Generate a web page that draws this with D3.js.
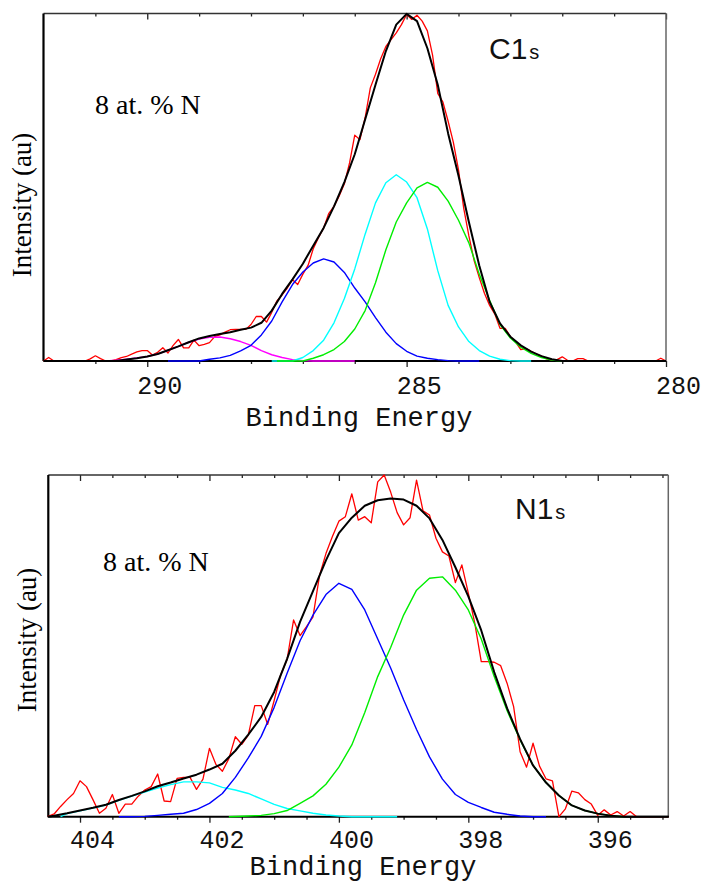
<!DOCTYPE html>
<html><head><meta charset="utf-8">
<script src="https://cdn.jsdelivr.net/npm/d3@7"></script>
<style>html,body{margin:0;padding:0;background:#fff}svg{display:block}</style>
</head><body>
<svg id="chart" width="704" height="883"></svg>
<script>
// ---------- DATA: C1s panel (binding energy eV, intensity a.u.) ----------
const c1sMajorTicks = [290, 285, 280];
const c1sMinorTicks = [291, 289, 288, 287, 286, 284, 283, 282, 281];
const c1sRaw = [[292.0,0],[291.9,1.0],[291.8,0],[291.2,0],[291.1,0.6],[291.0,1.5],[290.9,0.7],[290.8,0],[290.7,0],
 [290.6,0.4],[290.5,1.0],[290.4,1.3],[290.3,2.0],[290.2,2.6],[290.1,3.0],[290.0,3.0],[289.9,1.7],[289.8,2.5],[289.7,3.8],
 [289.6,2.3],[289.5,4.5],[289.4,6.2],[289.3,3.8],[289.2,3.8],[289.1,6.0],[289.0,4.4],[288.9,4.8],[288.8,5.3],[288.7,7.0],
 [288.6,7.5],[288.5,8.3],[288.4,9.0],[288.3,9.1],[288.2,9.1],[288.1,9.1],[288.0,10.5],[287.9,12.8],[287.8,12.8],[287.7,11.2],
 [287.6,14.0],[287.5,17.3],[287.4,19.0],[287.3,21.0],[287.2,23.4],[287.1,22.0],[287.0,25.0],[286.9,27.5],[286.8,32.3],
 [286.7,35.5],[286.6,38.3],[286.5,42.5],[286.4,44.5],[286.3,47.5],[286.2,51.0],[286.1,57.0],[286.0,65.0],[285.9,63.7],
 [285.8,70.0],[285.7,78.6],[285.6,82.5],[285.5,87.0],[285.4,90.5],[285.3,92.5],[285.2,94.4],[285.1,96.8],[285.0,99.7],
 [284.9,98.3],[284.8,99.5],[284.7,97.8],[284.6,95.0],[284.5,88.0],[284.4,77.0],[284.3,74.5],[284.2,69.0],[284.1,63.0],
 [284.0,55.0],[283.9,44.0],[283.8,36.0],[283.7,29.0],[283.6,24.0],[283.5,19.5],[283.4,16.0],[283.3,13.5],[283.2,9.4],
 [283.1,9.4],[283.0,7.0],[282.9,5.5],[282.8,3.3],[282.7,3.6],[282.6,2.8],[282.5,2.0],[282.4,1.4],[282.3,0.6],[282.2,0.3],
 [282.1,0.4],[282.0,1.2],[281.9,0.2],[281.8,0],[281.7,0.7],[281.6,0.7],[281.5,0],[280.2,0],[280.1,0.8],[280.0,0]];
const c1sFit = [[292.0,0],[290.6,0],[290.4,0.4],[290.2,0.8],[290.0,1.3],[289.8,2.0],[289.6,3.1],[289.4,4.2],[289.2,5.4],
 [289.0,6.5],[288.8,7.2],[288.6,7.8],[288.4,8.3],[288.2,9.0],[288.0,9.6],[287.8,11.0],[287.6,14.5],[287.4,19.3],[287.2,23.5],
 [287.0,28.0],[286.8,33.2],[286.6,38.3],[286.4,44.5],[286.2,51.5],[286.0,59.5],[285.8,69.5],[285.6,79.5],[285.4,89.2],
 [285.2,96.8],[285.0,99.9],[284.8,97.8],[284.6,90.0],[284.4,79.5],[284.2,65.5],[284.0,53.3],[283.8,40.0],[283.6,27.5],
 [283.4,17.0],[283.2,10.8],[283.0,7.0],[282.8,4.5],[282.6,2.7],[282.4,1.4],[282.2,0.5],[282.0,0],[280.0,0]];
const c1sPeakMagenta = [[290.8,0],[290.6,0.2],[290.4,0.5],[290.2,0.9],[290.0,1.3],[289.8,2.0],[289.6,3.1],[289.4,4.2],
 [289.2,5.4],[289.0,6.3],[288.8,6.8],[288.6,6.9],[288.4,6.4],[288.2,5.6],[288.0,4.5],[287.8,3.0],[287.6,1.8],[287.4,1.0],
 [287.2,0.4],[287.0,0.1],[286.8,0],[286.0,0]];
const c1sPeakBlue = [[289.6,0],[289.0,0],[288.8,0.5],[288.6,0.9],[288.4,1.6],[288.2,2.9],[288.0,4.5],[287.8,7.5],[287.6,11.5],
 [287.4,17.0],[287.2,22.0],[287.0,25.6],[286.8,28.2],[286.6,29.4],[286.4,28.5],[286.2,25.5],[286.0,21.0],[285.8,17.0],
 [285.6,12.5],[285.4,8.3],[285.2,5.0],[285.0,2.8],[284.8,1.4],[284.6,0.8],[284.4,0.4],[284.2,0.1],[284.0,0],[283.6,0]];
const c1sPeakCyan = [[287.6,0],[287.2,0],[287.0,1.0],[286.8,3.0],[286.6,6.0],[286.4,11.0],[286.2,18.0],[286.0,26.5],
 [285.8,36.5],[285.6,45.5],[285.4,51.3],[285.2,53.6],[285.0,51.5],[284.8,47.0],[284.6,38.0],[284.4,26.0],[284.2,16.0],
 [284.0,9.8],[283.8,5.6],[283.6,3.0],[283.4,1.4],[283.2,0.5],[283.0,0.1],[282.8,0],[282.6,0]];
const c1sPeakGreen = [[287.5,0],[287.0,0],[286.8,0.8],[286.6,1.8],[286.4,3.3],[286.2,5.6],[286.0,9.2],[285.8,14.5],
 [285.6,22.5],[285.4,32.0],[285.2,40.0],[285.0,45.5],[284.8,49.8],[284.6,51.4],[284.4,50.0],[284.2,46.0],[284.0,40.5],
 [283.8,34.0],[283.6,25.0],[283.4,17.5],[283.2,10.5],[283.0,6.6],[282.8,4.0],[282.6,2.2],[282.4,1.0],[282.2,0.3],[282.0,0]];

// ---------- DATA: N1s panel ----------
const n1sMajorTicks = [404, 402, 400, 398, 396];
const n1sMinorTicks = [403.5, 403, 402.5, 401.5, 401, 400.5, 399.5, 399, 398.5, 397.5, 397, 396.5, 395.5, 395];
const n1sRaw = [[404.5,0],[404.4,0.8],[404.3,3.0],[404.2,5.0],[404.1,6.8],[404.0,10.5],[403.9,8.8],[403.8,5.0],[403.7,1.0],
 [403.6,2.5],[403.5,6.5],[403.4,1.0],[403.3,3.7],[403.2,3.7],[403.1,6.0],[403.0,7.8],[402.9,8.8],[402.8,12.5],[402.7,4.6],
 [402.6,4.4],[402.5,11.2],[402.4,11.5],[402.3,11.5],[402.2,8.0],[402.1,11.0],[402.0,20.0],[401.9,15.3],[401.8,13.3],
 [401.7,17.0],[401.6,23.4],[401.5,21.2],[401.4,23.9],[401.3,32.5],[401.2,32.5],[401.1,27.0],[401.0,34.0],[400.9,41.5],
 [400.8,46.0],[400.7,57.6],[400.6,53.0],[400.5,55.6],[400.4,58.5],[400.3,70.5],[400.2,77.0],[400.1,82.0],[400.0,86.5],
 [399.9,87.8],[399.8,94.5],[399.7,86.8],[399.6,87.8],[399.5,86.0],[399.4,98.0],[399.3,100],[399.2,95.0],[399.1,89.0],
 [399.0,85.4],[398.9,87.5],[398.8,98.5],[398.7,89.5],[398.6,88.3],[398.5,81.5],[398.4,77.5],[398.3,76.3],[398.2,68.5],
 [398.1,73.7],[398.0,65.4],[397.9,56.6],[397.8,45.4],[397.7,45.4],[397.6,45.2],[397.5,44.2],[397.4,39.0],[397.3,32.2],
 [397.2,19.0],[397.1,14.5],[397.0,21.5],[396.9,14.8],[396.8,11.1],[396.7,10.5],[396.6,0],[396.5,2.3],[396.4,7.5],
 [396.3,7.0],[396.2,5.0],[396.1,3.7],[396.0,0.4],[395.9,2.0],[395.8,0.5],[395.7,1.5],[395.6,0.2],[395.5,1.5],[395.4,0],
 [394.9,0]];
const n1sFit = [[404.5,0],[404.4,0.3],[404.2,1.0],[404.0,1.8],[403.8,2.6],[403.6,3.5],[403.4,4.9],[403.2,6.1],[403.0,7.4],
 [402.8,8.9],[402.6,10.0],[402.4,11.2],[402.2,12.3],[402.0,13.8],[401.8,15.5],[401.6,19.3],[401.4,24.0],[401.2,29.2],
 [401.0,36.5],[400.8,46.2],[400.6,57.0],[400.4,66.0],[400.2,75.0],[400.0,83.0],[399.8,87.5],[399.6,91.0],[399.4,92.6],
 [399.2,93.1],[399.0,92.8],[398.8,91.0],[398.6,87.3],[398.4,81.0],[398.2,73.0],[398.0,64.5],[397.8,54.5],[397.6,42.3],
 [397.4,31.7],[397.2,22.7],[397.0,15.0],[396.8,10.0],[396.6,6.2],[396.4,3.3],[396.2,1.8],[396.0,0.9],[395.8,0.3],[395.6,0],
 [394.9,0]];
const n1sPeakCyan = [[404.3,0],[404.2,0.9],[404.0,1.7],[403.8,2.5],[403.6,3.4],[403.4,4.8],[403.2,6.0],[403.0,7.2],
 [402.8,8.4],[402.6,9.4],[402.4,10.2],[402.2,10.2],[402.0,9.9],[401.8,8.6],[401.6,7.8],[401.4,6.8],[401.2,5.2],[401.0,3.6],
 [400.8,2.4],[400.6,1.7],[400.4,1.0],[400.2,0.5],[400.0,0.2],[399.8,0],[399.1,0]];
const n1sPeakBlue = [[403.4,0],[403.2,0],[403.0,0.1],[402.8,0.4],[402.6,0.7],[402.4,1.0],[402.2,2.1],[402.0,3.9],[401.8,6.8],
 [401.6,11.5],[401.4,17.2],[401.2,23.5],[401.0,32.0],[400.8,42.0],[400.6,51.5],[400.4,59.0],[400.2,65.0],[400.0,68.3],
 [399.8,66.5],[399.6,60.5],[399.4,52.0],[399.2,43.5],[399.0,34.2],[398.8,25.5],[398.6,17.5],[398.4,11.0],[398.2,6.5],
 [398.0,4.2],[397.8,2.7],[397.6,1.3],[397.4,0.7],[397.2,0.2],[397.0,0],[396.8,0]];
const n1sPeakGreen = [[401.7,0],[401.4,0.2],[401.2,0.4],[401.0,0.9],[400.8,1.8],[400.6,3.9],[400.4,6.1],[400.2,9.5],
 [400.0,14.5],[399.8,21.0],[399.6,30.5],[399.4,41.0],[399.2,49.5],[399.0,59.0],[398.8,66.3],[398.6,69.8],[398.4,70.2],
 [398.2,66.3],[398.0,60.5],[397.8,52.0],[397.6,41.0],[397.4,31.0],[397.2,22.5],[397.0,15.0],[396.8,10.0],[396.6,6.2],
 [396.4,3.3],[396.2,1.8],[396.0,0.9],[395.8,0.3],[395.6,0]];

// ---------- DRAWING ----------
const svg = d3.select("#chart");

function drawPanel(cfg) {
  const x = d3.scaleLinear().domain(cfg.domain).range([cfg.left, cfg.right]);
  const y = d3.scaleLinear().domain([0, 100]).range([cfg.bottom, cfg.top]);
  const g = svg.append("g");
  const [x0, x1] = x.range();
  const [yb, yt] = y.range();

  const styleTicks = sel => { sel.select(".domain").remove(); sel.selectAll("line").attr("stroke", "#222").attr("stroke-width", 1.3); };
  g.append("g").attr("transform", `translate(0,${yb})`)
    .call(d3.axisBottom(x).tickValues(cfg.minor).tickSize(3).tickFormat(""))
    .call(styleTicks);
  const maj = g.append("g").attr("transform", `translate(0,${yb})`)
    .call(d3.axisBottom(x).tickValues(cfg.major).tickSize(6).tickFormat(d3.format("d")))
    .call(styleTicks);
  maj.selectAll("text")
    .attr("y", cfg.labelOffset).attr("dy", 0).attr("dx", 12)
    .attr("font-family", "'Liberation Mono', 'DejaVu Sans Mono', monospace")
    .attr("font-size", 25).attr("fill", "#111");
  g.append("g").attr("transform", `translate(0,${yt})`)
    .call(d3.axisTop(x).tickValues(cfg.minor).tickSize(-3).tickFormat(""))
    .call(styleTicks);
  g.append("g").attr("transform", `translate(0,${yt})`)
    .call(d3.axisTop(x).tickValues(cfg.major).tickSize(-6).tickFormat(""))
    .call(styleTicks);

  g.append("line").attr("x1", x0).attr("x2", x1).attr("y1", yt).attr("y2", yt).attr("stroke", "#333").attr("stroke-width", 1.5);
  g.append("line").attr("x1", x1).attr("x2", x1).attr("y1", yt).attr("y2", yb).attr("stroke", "#666").attr("stroke-width", 1.5);
  g.append("line").attr("x1", x0).attr("x2", x1).attr("y1", yb).attr("y2", yb).attr("stroke", "#000").attr("stroke-width", 2);
  g.append("line").attr("x1", x0).attr("x2", x0).attr("y1", yt).attr("y2", yb).attr("stroke", "#000").attr("stroke-width", 2.2);

  const line = d3.line().x(d => x(d[0])).y(d => y(d[1]));
  cfg.series.forEach(s => {
    g.append("path").datum(s.data).attr("d", line)
      .attr("fill", "none").attr("stroke", s.color).attr("stroke-width", s.width)
      .attr("stroke-linejoin", "round");
  });

  g.append("text").text("Binding Energy")
    .attr("x", cfg.titleX).attr("y", cfg.titleY).attr("text-anchor", "middle")
    .attr("font-family", "'Liberation Mono', 'DejaVu Sans Mono', monospace").attr("font-size", 27).attr("fill", "#111");
  g.append("text").text("Intensity (au)")
    .attr("transform", `translate(${cfg.ylabX},${cfg.ylabY}) rotate(-90)`).attr("text-anchor", "middle")
    .attr("font-family", "'Liberation Serif', 'Times New Roman', serif").attr("font-size", 27).attr("fill", "#000");
  g.append("text").text("8 at. % N")
    .attr("x", cfg.noteX).attr("y", cfg.noteY)
    .attr("font-family", "'Liberation Serif', 'Times New Roman', serif").attr("font-size", 28).attr("fill", "#000");
  const lab = g.append("text").attr("x", cfg.coreX).attr("y", cfg.coreY)
    .attr("font-family", "'Liberation Sans', Arial, sans-serif").attr("fill", "#111");
  lab.append("tspan").text(cfg.core).attr("font-size", 30);
  lab.append("tspan").text("s").attr("font-size", 20).attr("dx", 2);
}

drawPanel({
  domain: [292, 280], left: 43.5, right: 666, top: 13.5, bottom: 361,
  major: c1sMajorTicks, minor: c1sMinorTicks, labelOffset: 33,
  titleX: 359, titleY: 426, ylabX: 31, ylabY: 205,
  noteX: 95, noteY: 114, core: "C1", coreX: 489, coreY: 59,
  series: [
    {data: c1sRaw, color: "#ff0000", width: 1.3},
    {data: c1sPeakMagenta, color: "#ff00ff", width: 1.4},
    {data: c1sPeakBlue, color: "#0000ff", width: 1.4},
    {data: c1sPeakCyan, color: "#00ffff", width: 1.4},
    {data: c1sPeakGreen, color: "#00ee00", width: 1.4},
    {data: c1sFit, color: "#000", width: 2}
  ]
});

drawPanel({
  domain: [404.49, 394.91], left: 48.3, right: 668.3, top: 475, bottom: 816.7,
  major: n1sMajorTicks, minor: n1sMinorTicks, labelOffset: 31,
  titleX: 363, titleY: 875, ylabX: 36, ylabY: 640,
  noteX: 103, noteY: 571, core: "N1", coreX: 515, coreY: 519,
  series: [
    {data: n1sRaw, color: "#ff0000", width: 1.3},
    {data: n1sPeakCyan, color: "#00ffff", width: 1.4},
    {data: n1sPeakBlue, color: "#0000ff", width: 1.4},
    {data: n1sPeakGreen, color: "#00ee00", width: 1.4},
    {data: n1sFit, color: "#000", width: 2}
  ]
});
</script>
</body></html>
